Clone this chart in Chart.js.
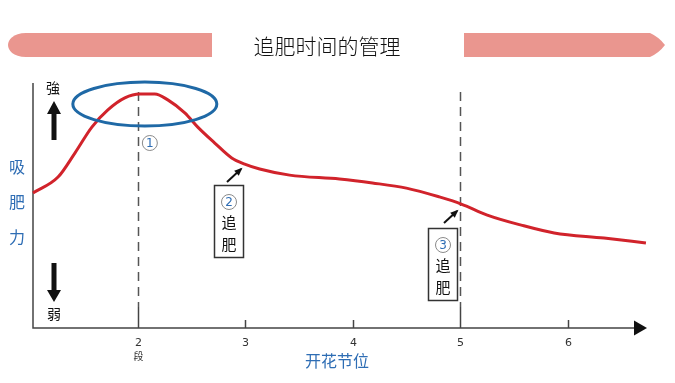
<!DOCTYPE html>
<html><head><meta charset="utf-8">
<script src="https://cdn.jsdelivr.net/npm/chart.js@4.4.0/dist/chart.umd.min.js"></script>
<style>html,body{margin:0;padding:0;background:#fff}</style>
</head><body>
<canvas id="c" width="675" height="383"></canvas>
<script>
// ---- data ----
const titleText = '追肥时间的管理';
const xAxisTitle = '开花节位';
const yAxisTitle = ['吸', '肥', '力'];
const nodePositions = [1.024, 1.257, 1.414, 1.572, 1.721, 1.879, 2.019, 2.158, 2.279, 2.437, 2.558, 2.716, 2.874, 2.995, 3.134, 3.413, 3.877, 4.184, 4.500, 4.807, 5.011, 5.253, 5.569, 5.876, 6.340, 6.730];
const absorption =    [55.1, 61.6, 71.4, 82.0, 89.0, 93.9, 95.5, 95.5, 93.1, 87.8, 82.0, 75.5, 69.4, 66.9, 64.9, 62.4, 60.8, 59.2, 57.1, 53.5, 50.6, 46.1, 42.0, 38.8, 36.7, 34.7];
const tickValues = [2, 3, 4, 5, 6];
const tickLabels = ['2', '3', '4', '5', '6'];
const fertilizeNodes = [2, 5];
const CJK = '"Noto Sans CJK SC", "Noto Sans", sans-serif';

const decor = {
  id: 'decor',
  beforeDatasetsDraw(chart) {
    const ctx = chart.ctx, xs = chart.scales.x, ys = chart.scales.y;
    const X = v => xs.getPixelForValue(v), Y = v => ys.getPixelForValue(v);
    const ca = chart.chartArea;
    ctx.save();
    // title bars
    ctx.fillStyle = '#EA968F';
    ctx.beginPath();
    ctx.moveTo(212, 33); ctx.lineTo(26, 33);
    ctx.bezierCurveTo(13, 33, 8, 40, 8, 45);
    ctx.bezierCurveTo(8, 50, 13, 57, 26, 57);
    ctx.lineTo(212, 57); ctx.closePath(); ctx.fill();
    ctx.beginPath();
    ctx.moveTo(464, 33); ctx.lineTo(650, 33);
    ctx.quadraticCurveTo(659, 37, 665, 45);
    ctx.quadraticCurveTo(659, 53, 650, 57);
    ctx.lineTo(464, 57); ctx.closePath(); ctx.fill();
    // title
    ctx.fillStyle = '#111';
    ctx.font = '300 21px ' + CJK;
    ctx.textAlign = 'center'; ctx.textBaseline = 'middle';
    ctx.fillText(titleText, 327, 46);

    // axes
    const y0 = Y(0);
    ctx.strokeStyle = '#444'; ctx.lineWidth = 1.5;
    ctx.beginPath();
    ctx.moveTo(ca.left, Y(100)); ctx.lineTo(ca.left, y0); ctx.lineTo(ca.right - 12, y0);
    ctx.stroke();
    ctx.fillStyle = '#111';
    ctx.beginPath();
    ctx.moveTo(ca.right - 13, y0 - 7.5); ctx.lineTo(ca.right, y0); ctx.lineTo(ca.right - 13, y0 + 7.5);
    ctx.closePath(); ctx.fill();

    // ticks
    ctx.strokeStyle = '#444'; ctx.lineWidth = 1.5;
    ctx.font = '11px "DejaVu Sans", sans-serif';
    ctx.fillStyle = '#333';
    tickValues.forEach((v, i) => {
      const px = Math.round(X(v)) + 0.5;
      const len = fertilizeNodes.includes(v) ? 21 : 8;
      ctx.beginPath(); ctx.moveTo(px, y0 - len); ctx.lineTo(px, y0); ctx.stroke();
      ctx.fillText(tickLabels[i], px, y0 + 15);
    });
    ctx.font = '10px ' + CJK;
    ctx.fillText('段', Math.round(X(2)) + 0.5, y0 + 28);

    // dashed lines
    ctx.strokeStyle = '#555'; ctx.lineWidth = 1.5;
    ctx.setLineDash([9, 6]);
    fertilizeNodes.forEach(v => {
      const px = Math.round(X(v)) + 0.5;
      ctx.beginPath(); ctx.moveTo(px, Y(96.3)); ctx.lineTo(px, y0 - 21); ctx.stroke();
    });
    ctx.setLineDash([]);

    // axis titles
    ctx.fillStyle = '#2E6DB4';
    ctx.font = '16px ' + CJK;
    ctx.fillText(xAxisTitle, 337, 361);
    yAxisTitle.forEach((t, i) => ctx.fillText(t, 17, 167 + i * 35));

    // strong / weak arrows
    ctx.fillStyle = '#111';
    ctx.font = '14px ' + CJK;
    ctx.fillText('強', 53, 88);
    ctx.fillText('弱', 54, 314);
    ctx.beginPath();
    ctx.moveTo(54, 101); ctx.lineTo(61, 114); ctx.lineTo(56.5, 114); ctx.lineTo(56.5, 140);
    ctx.lineTo(51.5, 140); ctx.lineTo(51.5, 114); ctx.lineTo(47, 114); ctx.closePath(); ctx.fill();
    ctx.beginPath();
    ctx.moveTo(54, 302); ctx.lineTo(61, 290); ctx.lineTo(56.5, 290); ctx.lineTo(56.5, 263);
    ctx.lineTo(51.5, 263); ctx.lineTo(51.5, 290); ctx.lineTo(47, 290); ctx.closePath(); ctx.fill();
    ctx.restore();
  },
  afterDatasetsDraw(chart) {
    const ctx = chart.ctx, xs = chart.scales.x, ys = chart.scales.y;
    const X = v => xs.getPixelForValue(v), Y = v => ys.getPixelForValue(v);
    ctx.save();
    // ellipse around peak
    ctx.strokeStyle = '#1F69A6'; ctx.lineWidth = 3;
    ctx.beginPath();
    ctx.ellipse(X(2.065), Y(91.4), 72, 22, 0, 0, Math.PI * 2);
    ctx.stroke();

    const circled = (n, cx, cy) => {
      ctx.strokeStyle = '#8A8A8A'; ctx.lineWidth = 1;
      ctx.beginPath(); ctx.arc(cx, cy, 7.5, 0, Math.PI * 2); ctx.stroke();
      ctx.fillStyle = '#2E6DB4';
      ctx.font = '12px "DejaVu Sans", sans-serif';
      ctx.textAlign = 'center'; ctx.textBaseline = 'middle';
      ctx.fillText(String(n), cx, cy + 0.5);
    };
    circled(1, X(2) + 12, 143);

    const box = (n, left, top, arrowFrom, arrowTo) => {
      ctx.strokeStyle = '#333'; ctx.lineWidth = 1.5;
      ctx.strokeRect(left + 0.5, top + 0.5, 29, 72);
      const cx = left + 15;
      circled(n, cx, top + 17);
      ctx.fillStyle = '#111';
      ctx.font = '15px ' + CJK;
      ctx.textAlign = 'center'; ctx.textBaseline = 'middle';
      ctx.fillText('追', cx, top + 37);
      ctx.fillText('肥', cx, top + 59);
      // arrow
      ctx.strokeStyle = '#111'; ctx.lineWidth = 2;
      ctx.beginPath(); ctx.moveTo(arrowFrom[0], arrowFrom[1]); ctx.lineTo(arrowTo[0], arrowTo[1]); ctx.stroke();
      const a = Math.atan2(arrowTo[1] - arrowFrom[1], arrowTo[0] - arrowFrom[0]);
      ctx.fillStyle = '#111';
      ctx.beginPath();
      ctx.moveTo(arrowTo[0] + Math.cos(a) * 2, arrowTo[1] + Math.sin(a) * 2);
      ctx.lineTo(arrowTo[0] - Math.cos(a - 0.5) * 7, arrowTo[1] - Math.sin(a - 0.5) * 7);
      ctx.lineTo(arrowTo[0] - Math.cos(a + 0.5) * 7, arrowTo[1] - Math.sin(a + 0.5) * 7);
      ctx.closePath(); ctx.fill();
    };
    box(2, 214, 185, [227, 182], [241, 169]);
    box(3, 428, 228, [444, 223], [457, 211]);
    ctx.restore();
  }
};

new Chart(document.getElementById('c'), {
  type: 'line',
  data: {
    datasets: [{
      data: nodePositions.map((x, i) => ({ x, y: absorption[i] })),
      borderColor: '#D1232B',
      borderWidth: 3,
      pointRadius: 0,
      cubicInterpolationMode: 'monotone',
      fill: false,
      clip: false
    }]
  },
  options: {
    responsive: false,
    animation: false,
    devicePixelRatio: 1,
    layout: { padding: { left: 33, right: 28, top: 83, bottom: 55 } },
    plugins: { legend: { display: false }, tooltip: { enabled: false } },
    scales: {
      x: { type: 'linear', min: 1.024, max: 6.74, display: false },
      y: { min: 0, max: 100, display: false }
    }
  },
  plugins: [decor]
});
</script>
</body></html>
